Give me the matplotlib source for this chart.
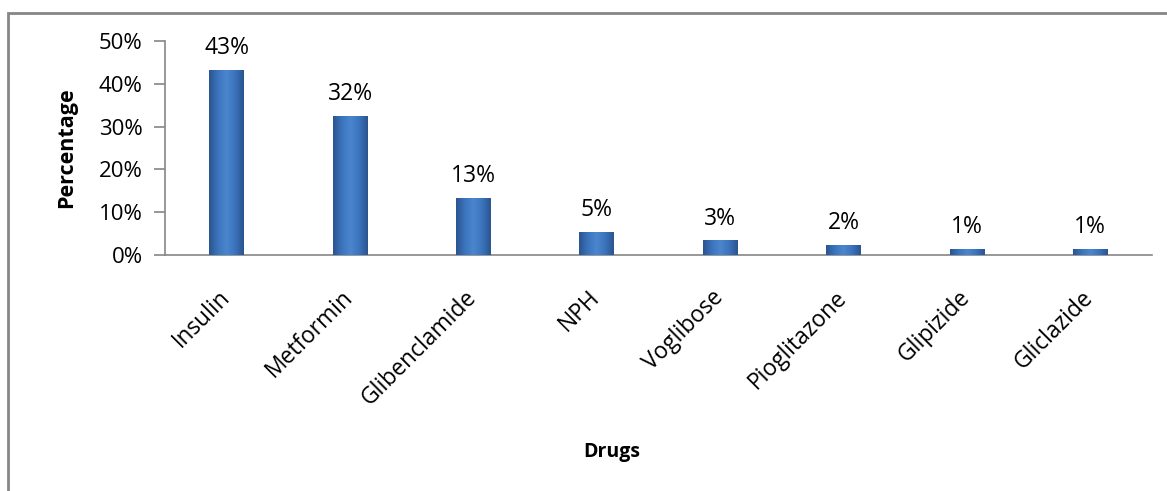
import numpy as np
import matplotlib
matplotlib.use("Agg")
import matplotlib.pyplot as plt
import matplotlib.transforms as mtransforms
from matplotlib.colors import LinearSegmentedColormap
from matplotlib.patches import Rectangle

drugs = ['Insulin', 'Metformin', 'Glibenclamide', 'NPH', 'Voglibose',
         'Pioglitazone', 'Glipizide', 'Gliclazide']
percent = [43.2, 32.4, 13.4, 5.4, 3.4, 2.4, 1.4, 1.4]
yticks = [0, 10, 20, 30, 40, 50]

plt.rcParams['font.family'] = ['Open Sans', 'DejaVu Sans']
axis_gray = '#868686'

fig = plt.figure(figsize=(11.67, 4.91), dpi=100)
ax = fig.add_axes([0.1414, 0.4807, 0.8456, 0.4358])

x = np.arange(len(drugs))
bars = ax.bar(x, percent, width=0.28, color='#3D72B8', edgecolor='none', zorder=2)

# cylinder-like shading, dark edges and lighter middle
cmap = LinearSegmentedColormap.from_list(
    'bar', ['#2A5590', '#3B74BD', '#4A86CF', '#3B74BD', '#2A5590'])
grad = np.linspace(0, 1, 64).reshape(1, -1)
for b in bars:
    bx, by = b.get_x(), b.get_y()
    w, h = b.get_width(), b.get_height()
    im = ax.imshow(grad, cmap=cmap, aspect='auto', zorder=3,
                   extent=[bx, bx + w, by, by + h], interpolation='bicubic')
    im.set_clip_path(b)
    ax.text(bx + w / 2, h + 3.7, f'{round(h)}%', ha='center', va='baseline',
            fontsize=16.5, color='black')

ax.set_xlim(-0.5, len(drugs) - 0.5)
ax.set_ylim(0, 50)
ax.set_yticks(yticks)
ax.set_yticklabels([f'{t}%' for t in yticks], fontsize=16)
ax.set_xticks(x)
ax.set_xticklabels(drugs, rotation=45, ha='right', rotation_mode='anchor',
                   fontsize=16.4)
ax.tick_params(axis='x', length=0, pad=22)
ax.tick_params(axis='y', length=8, color=axis_gray, width=1.2, pad=8)
shift = mtransforms.ScaledTranslation(-9 / 100, 0, fig.dpi_scale_trans)
for lab in ax.get_xticklabels():
    lab.set_transform(lab.get_transform() + shift)

for s in ['top', 'right']:
    ax.spines[s].set_visible(False)
for s in ['left', 'bottom']:
    ax.spines[s].set_color(axis_gray)
    ax.spines[s].set_linewidth(1.2)

ax.set_ylabel('Percentage', fontsize=15.5, fontweight='bold', labelpad=16)
fig.text(0.524, 0.079, 'Drugs', ha='center', va='center', fontsize=14,
         fontweight='bold')

# chart area border
fig.patches.append(Rectangle((8 / 1167, -0.05), 1.1, 1 - 13 / 491 + 0.05,
                             transform=fig.transFigure, fill=False,
                             edgecolor=axis_gray, linewidth=2))

fig.savefig('out.png', dpi=100)
